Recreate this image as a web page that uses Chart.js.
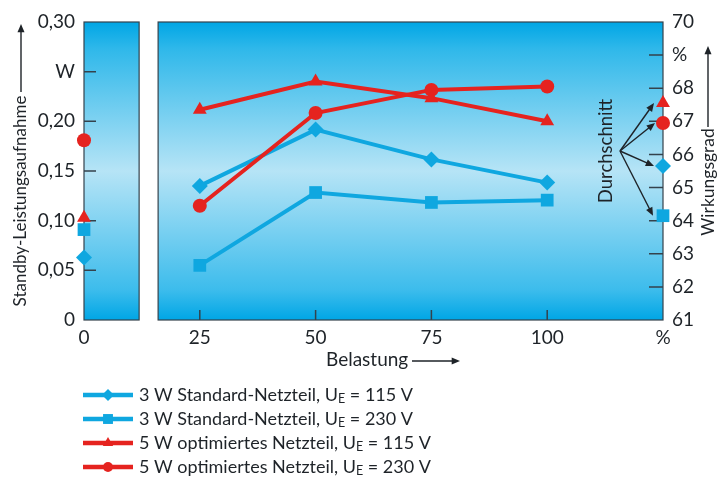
<!DOCTYPE html>
<html>
<head>
<meta charset="utf-8">
<script src="https://cdn.jsdelivr.net/npm/chart.js@4.4.1/dist/chart.umd.min.js"></script>
<style>
  html, body { margin: 0; padding: 0; background: #fff; }
  canvas { display: block; }
</style>
</head>
<body>
<canvas id="chart" width="718" height="498"></canvas>
<script>
// Data
const loads = [25, 50, 75, 100];
const xTicks = [0, 25, 50, 75, 100, 125];
const seriesNames = [
    ['3 W Standard-Netzteil, U', 'E', ' = 115 V'],
    ['3 W Standard-Netzteil, U', 'E', ' = 230 V'],
    ['5 W optimiertes Netzteil, U', 'E', ' = 115 V'],
    ['5 W optimiertes Netzteil, U', 'E', ' = 230 V'],
];
const std115 = [65.05, 66.75, 65.85, 65.15];
const std230 = [62.65, 64.85, 64.55, 64.62];
const opt115 = [67.35, 68.2, 67.7, 67.0];
const opt230 = [64.45, 67.25, 67.95, 68.05];
const standby = [0.063, 0.091, 0.103, 0.181];
const averages = [65.65, 64.15, 67.55, 66.95];

const RED = '#e5231f';
const BLUE = '#0fa7e0';
const TEXT = '#1e2328';
const FONT = 'Lato, sans-serif';

const styles = [
    { color: BLUE, pointStyle: 'rectRot', radius: 8, order: 1 },
    { color: BLUE, pointStyle: 'rect', radius: 9, order: 1 },
    { color: RED, pointStyle: 'triangle', radius: 8, order: 0 },
    { color: RED, pointStyle: 'circle', radius: 7, order: 0 },
];
const efficiency = [std115, std230, opt115, opt230];

// panel break (in x units)
const GAP_FROM = 11.9;
const GAP_TO = 16;

const datasets = [];
efficiency.forEach((vals, i) => {
    const s = styles[i];
    const base = {
        borderColor: s.color,
        backgroundColor: s.color,
        pointStyle: s.pointStyle,
        pointRadius: s.radius,
        pointHoverRadius: s.radius,
        pointBorderWidth: 0,
        order: s.order,
        clip: false,
    };
    datasets.push({
        ...base,
        label: seriesNames[i].join(''),
        data: loads.map((x, j) => ({ x, y: vals[j] })),
        yAxisID: 'yR',
        showLine: true,
        borderWidth: 4,
    });
    datasets.push({
        ...base,
        label: 'standby',
        data: [{ x: 0, y: standby[i] }],
        yAxisID: 'yL',
        showLine: false,
    });
    datasets.push({
        ...base,
        label: 'avg',
        data: [{ x: 125, y: averages[i] }],
        yAxisID: 'yR',
        showLine: false,
    });
});

function arrow(ctx, x1, y1, x2, y2, head) {
    const a = Math.atan2(y2 - y1, x2 - x1);
    ctx.beginPath();
    ctx.moveTo(x1, y1);
    ctx.lineTo(x2 - Math.cos(a) * head * 0.8, y2 - Math.sin(a) * head * 0.8);
    ctx.stroke();
    ctx.beginPath();
    ctx.moveTo(x2, y2);
    ctx.lineTo(x2 - head * Math.cos(a - 0.4), y2 - head * Math.sin(a - 0.4));
    ctx.lineTo(x2 - head * Math.cos(a + 0.4), y2 - head * Math.sin(a + 0.4));
    ctx.closePath();
    ctx.fill();
}

const panelPlugin = {
    id: 'panels',
    beforeDatasetsDraw(chart) {
        const { ctx, chartArea: a, scales } = chart;
        const gx1 = scales.x.getPixelForValue(GAP_FROM);
        const gx2 = scales.x.getPixelForValue(GAP_TO);
        const g = ctx.createLinearGradient(0, a.top, 0, a.bottom);
        g.addColorStop(0, '#00a6e5');
        g.addColorStop(0.09, '#2fb8ea');
        g.addColorStop(0.5, '#b6e4f6');
        g.addColorStop(0.9, '#3cbcec');
        g.addColorStop(1, '#00a6e5');
        ctx.save();
        ctx.fillStyle = g;
        ctx.fillRect(a.left, a.top, gx1 - a.left, a.bottom - a.top);
        ctx.fillRect(gx2, a.top, a.right - gx2, a.bottom - a.top);
        ctx.strokeStyle = '#34424c';
        ctx.lineWidth = 1.2;
        ctx.strokeRect(a.left, a.top, gx1 - a.left, a.bottom - a.top);
        ctx.strokeRect(gx2, a.top, a.right - gx2, a.bottom - a.top);

        // inward tick marks
        ctx.lineWidth = 1.5;
        ctx.beginPath();
        scales.yL.ticks.forEach(t => {
            if (t.value <= 0 || t.value >= 0.3) return;
            const y = scales.yL.getPixelForValue(t.value);
            ctx.moveTo(a.left, y);
            ctx.lineTo(a.left + 12, y);
        });
        scales.yR.ticks.forEach(t => {
            if (t.value <= 61 || t.value >= 70) return;
            const y = scales.yR.getPixelForValue(t.value);
            ctx.moveTo(a.right, y);
            ctx.lineTo(a.right - 14, y);
        });
        loads.forEach(v => {
            const x = scales.x.getPixelForValue(v);
            ctx.moveTo(x, a.bottom);
            ctx.lineTo(x, a.bottom - 10);
        });
        ctx.stroke();
        ctx.restore();
    },
    afterDatasetsDraw(chart) {
        const { ctx, chartArea: a, scales } = chart;
        ctx.save();
        ctx.fillStyle = TEXT;
        ctx.strokeStyle = TEXT;
        ctx.lineWidth = 1.4;

        // "Durchschnitt" arrows to the average markers
        const ox = 620, oy = 151;
        averages.forEach((v, i) => {
            const y = scales.yR.getPixelForValue(v);
            const x = a.right - styles[i].radius - 1;
            arrow(ctx, ox, oy, x, y, 9);
        });
        ctx.font = '18.5px ' + FONT;
        ctx.textAlign = 'center';
        ctx.textBaseline = 'middle';
        ctx.translate(606, 151);
        ctx.rotate(-Math.PI / 2);
        ctx.fillText('Durchschnitt', 0, 0);
        ctx.restore();

        // axis titles
        ctx.save();
        ctx.fillStyle = TEXT;
        ctx.strokeStyle = TEXT;
        ctx.lineWidth = 1.4;
        ctx.font = '17px ' + FONT;
        ctx.textBaseline = 'middle';
        ctx.textAlign = 'center';
        ctx.save();
        ctx.translate(21, 201);
        ctx.rotate(-Math.PI / 2);
        ctx.fillText('Standby-Leistungsaufnahme', 0, 0);
        ctx.restore();
        arrow(ctx, 21, 92, 21, 24, 9);

        ctx.font = '17.5px ' + FONT;
        ctx.save();
        ctx.translate(708, 182);
        ctx.rotate(-Math.PI / 2);
        ctx.fillText('Wirkungsgrad', 0, 0);
        ctx.restore();
        arrow(ctx, 708, 127, 708, 46, 9);

        ctx.font = '19px ' + FONT;
        ctx.textAlign = 'left';
        ctx.fillText('Belastung', 326, 360);
        arrow(ctx, 412, 361, 460, 361, 9);
        ctx.restore();

        // legend
        ctx.save();
        styles.forEach((s, i) => {
            const y = 395 + i * 24;
            ctx.strokeStyle = s.color;
            ctx.fillStyle = s.color;
            ctx.lineWidth = 4.5;
            ctx.beginPath();
            ctx.moveTo(83, y);
            ctx.lineTo(133, y);
            ctx.stroke();
            Chart.helpers.drawPoint(ctx, {
                pointStyle: s.pointStyle, radius: s.radius - 2, borderWidth: 0, rotation: 0,
            }, 108, y);
            ctx.fillStyle = TEXT;
            ctx.textBaseline = 'middle';
            ctx.textAlign = 'left';
            const [pre, sub, post] = seriesNames[i];
            let x = 139;
            ctx.font = '18px ' + FONT;
            ctx.fillText(pre, x, y);
            x += ctx.measureText(pre).width;
            ctx.font = '12.5px ' + FONT;
            ctx.fillText(sub, x, y + 4);
            x += ctx.measureText(sub).width;
            ctx.font = '18px ' + FONT;
            ctx.fillText(post, x, y);
        });
        ctx.restore();
    },
};

new Chart(document.getElementById('chart'), {
    type: 'scatter',
    data: { datasets },
    options: {
        responsive: false,
        animation: false,
        devicePixelRatio: 1,
        layout: { padding: { top: 22, left: 0, right: 0, bottom: 0 } },
        plugins: { legend: { display: false }, tooltip: { enabled: false } },
        scales: {
            x: {
                type: 'linear',
                min: 0,
                max: 125,
                afterBuildTicks: scale => { scale.ticks = xTicks.map(v => ({ value: v })); },
                afterFit: scale => { scale.height = 178; },
                grid: { display: false, drawTicks: false },
                border: { display: false },
                ticks: {
                    color: TEXT,
                    font: { family: FONT, size: 19 },
                    padding: 6,
                    maxRotation: 0,
                    autoSkip: false,
                    callback: v => (v === 125 ? '%' : String(v)),
                },
            },
            yL: {
                type: 'linear',
                position: 'left',
                min: 0,
                max: 0.3,
                afterFit: scale => { scale.width = 84; },
                grid: { display: false, drawTicks: false },
                border: { display: false },
                ticks: {
                    stepSize: 0.05,
                    color: TEXT,
                    font: { family: FONT, size: 19 },
                    padding: 9,
                    callback: v => {
                        if (Math.abs(v - 0.25) < 1e-6) return 'W';
                        if (v === 0) return '0';
                        return v.toFixed(2).replace('.', ',');
                    },
                },
            },
            yR: {
                type: 'linear',
                position: 'right',
                min: 61,
                max: 70,
                afterFit: scale => { scale.width = 55; },
                grid: { display: false, drawTicks: false },
                border: { display: false },
                ticks: {
                    stepSize: 1,
                    color: TEXT,
                    font: { family: FONT, size: 19 },
                    padding: 9,
                    callback: v => (v === 69 ? '%' : String(v)),
                },
            },
        },
    },
    plugins: [panelPlugin],
});
</script>
</body>
</html>
